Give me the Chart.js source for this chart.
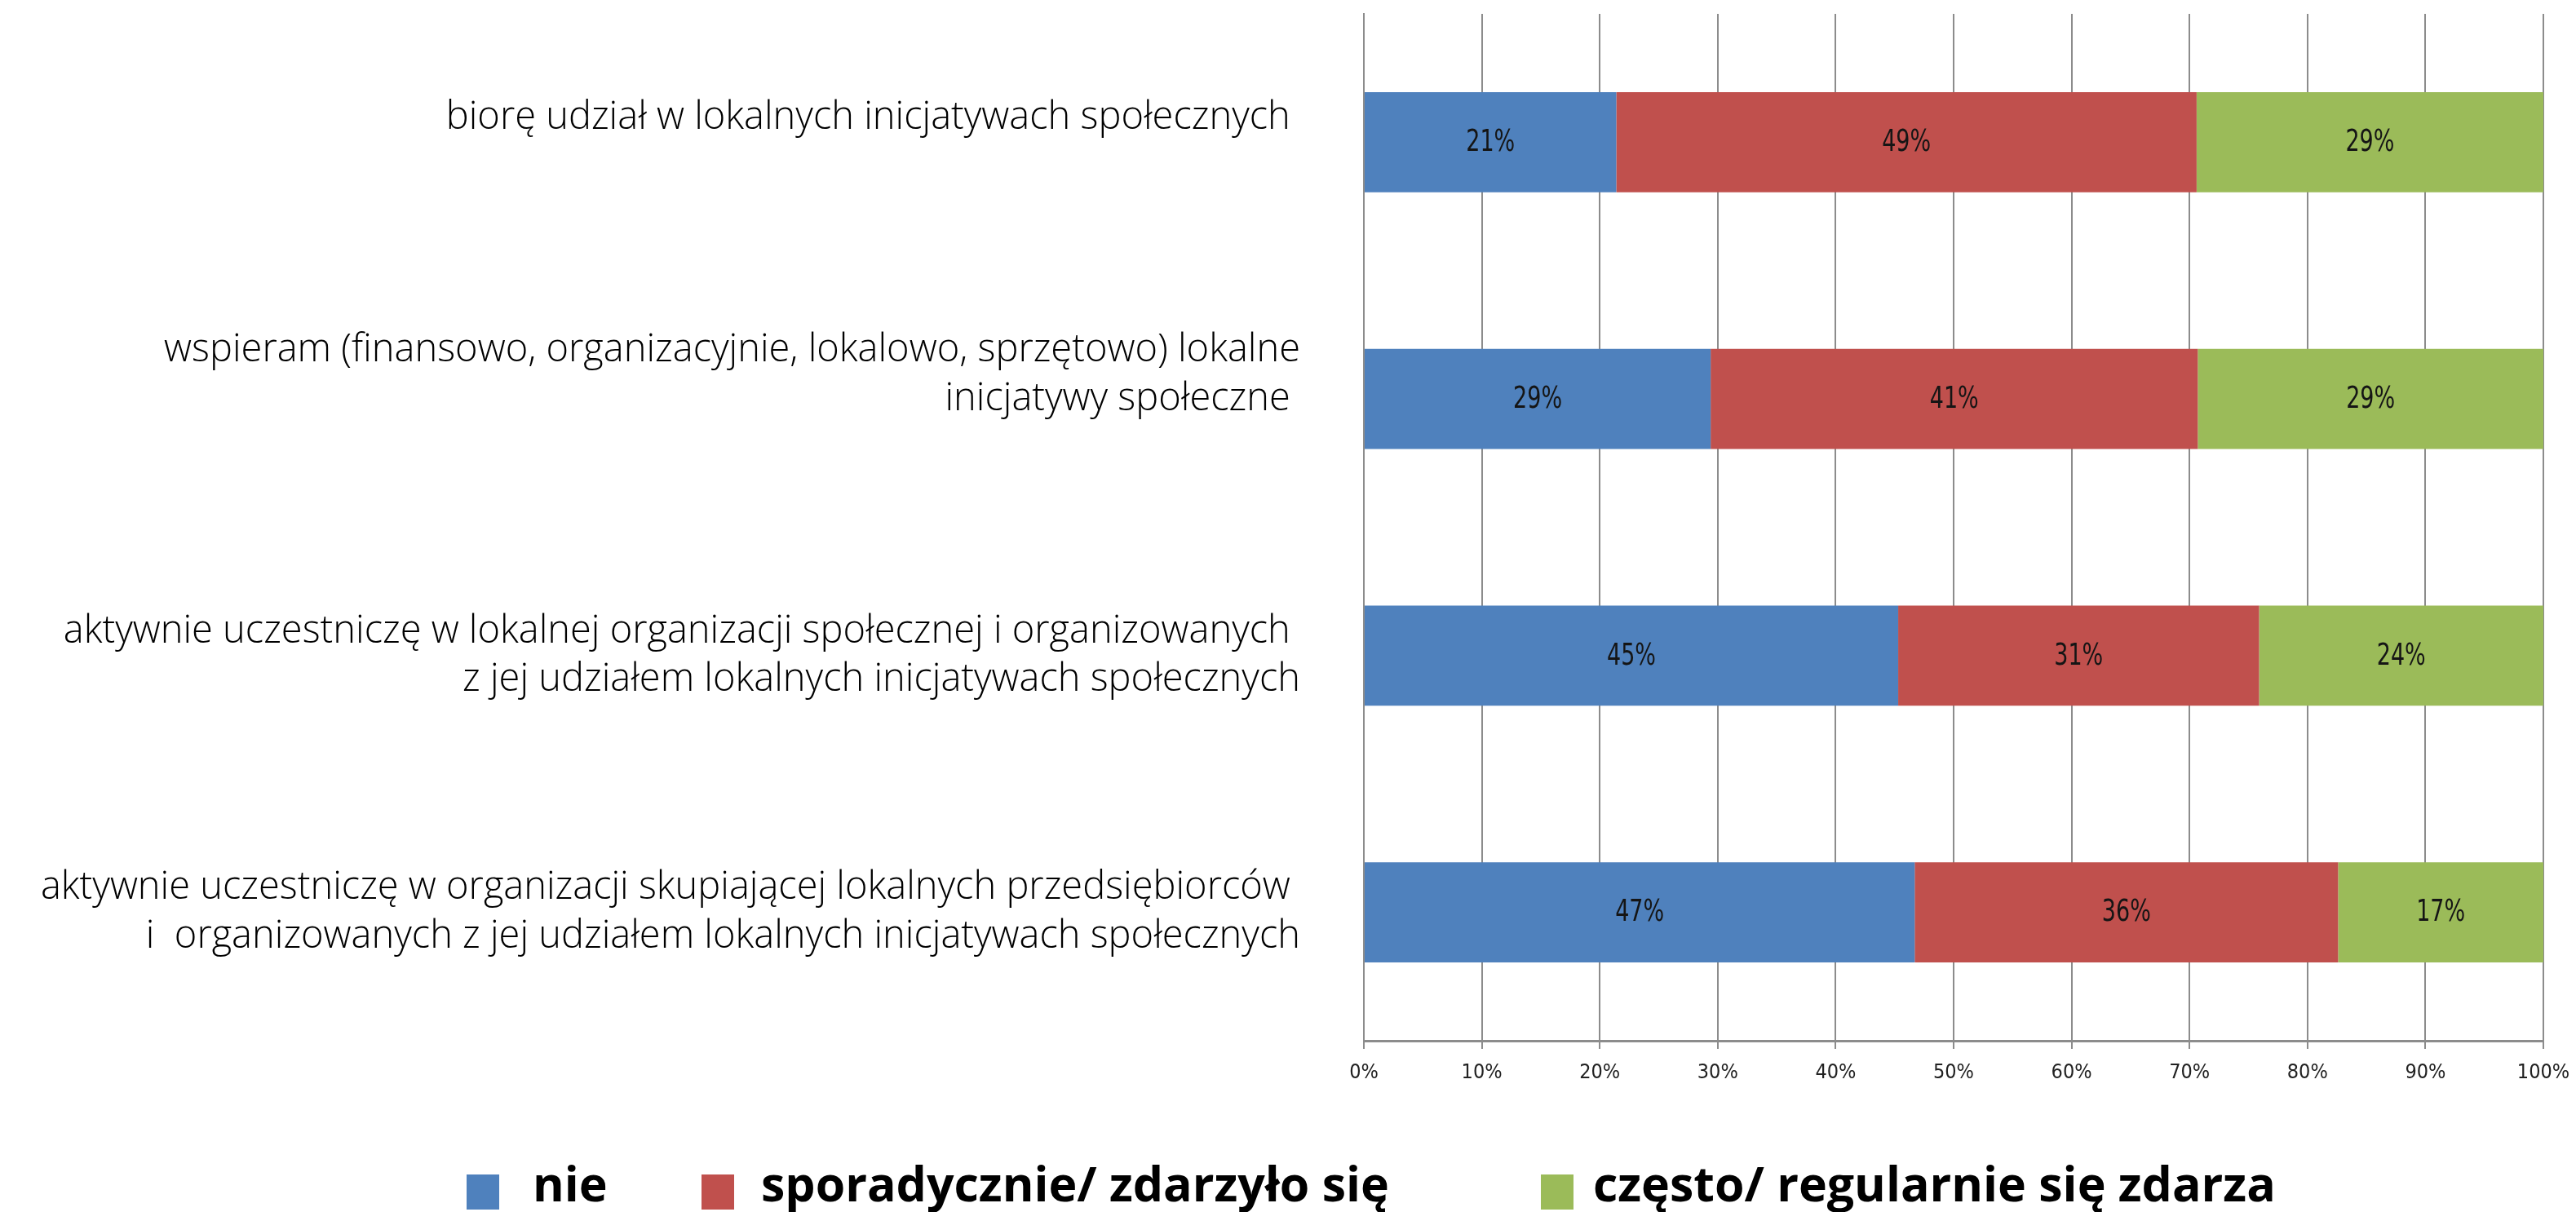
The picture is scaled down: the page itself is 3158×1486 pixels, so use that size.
<!DOCTYPE html>
<html>
<head>
<meta charset="utf-8">
<script src="https://cdn.jsdelivr.net/npm/chart.js@4.4.1/dist/chart.umd.min.js"></script>
<style>
html, body { margin: 0; padding: 0; background: #ffffff; }
</style>
</head>
<body>
<canvas id="chart" width="3158" height="1486"></canvas>
<script>
// categories (top to bottom), trailing '' lines nudge the label up like in the original
const categories = [
	['biorę udział w lokalnych inicjatywach społecznych ', ''],
	['wspieram (finansowo, organizacyjnie, lokalowo, sprzętowo) lokalne', 'inicjatywy społeczne ', ''],
	['aktywnie uczestniczę w lokalnej organizacji społecznej i organizowanych ', 'z jej udziałem lokalnych inicjatywach społecznych'],
	['aktywnie uczestniczę w organizacji skupiającej lokalnych przedsiębiorców ', 'i  organizowanych z jej udziałem lokalnych inicjatywach społecznych']
];

const seriesNames = ['nie', 'sporadycznie/ zdarzyło się', 'często/ regularnie się zdarza'];

// percentages
const nie = [21.4, 29.4, 45.3, 46.7];
const sporadycznie = [49.2, 41.3, 30.6, 35.9];
const czesto = [29.4, 29.3, 24.1, 17.4];

const seriesColors = ['#4F81BD', '#C0504D', '#9BBB59'];

const narrowFont = "'DejaVu Sans Condensed', 'Liberation Sans Narrow', 'DejaVu Sans', sans-serif";

// value labels inside each segment (a bit taller than wide, like the original)
const barLabels = {
	id: 'barLabels',
	afterDatasetsDraw(chart) {
		const ctx = chart.ctx;
		chart.data.datasets.forEach((ds, i) => {
			const meta = chart.getDatasetMeta(i);
			meta.data.forEach((bar, j) => {
				const cx = (bar.x + bar.base) / 2;
				ctx.save();
				ctx.translate(cx, bar.y + 1);
				ctx.scale(1, 1.25);
				ctx.font = '30px ' + narrowFont;
				ctx.fillStyle = '#151515';
				ctx.textAlign = 'center';
				ctx.textBaseline = 'middle';
				ctx.fillText(Math.round(ds.data[j]) + '%', 0, 0);
				ctx.restore();
			});
		});
	}
};

// legend at the bottom, spaced like the original
const bottomLegend = {
	id: 'bottomLegend',
	afterDraw(chart) {
		const ctx = chart.ctx;
		const boxX = [572, 860, 1889];
		const textX = [653, 933, 1953];
		const top = 1440;
		ctx.save();
		ctx.font = 'bold 59px "Open Sans", sans-serif';
		ctx.textBaseline = 'middle';
		ctx.textAlign = 'left';
		chart.data.datasets.forEach((ds, i) => {
			ctx.fillStyle = ds.backgroundColor;
			ctx.fillRect(boxX[i], top, 40, 43);
			ctx.fillStyle = '#000000';
			ctx.fillText(ds.label, textX[i], top + 16);
		});
		ctx.restore();
	}
};

new Chart(
	document.getElementById('chart'),
	{
		type: 'bar',
		data: {
			labels: categories,
			datasets: [
				{ label: seriesNames[0], data: nie, backgroundColor: seriesColors[0] },
				{ label: seriesNames[1], data: sporadycznie, backgroundColor: seriesColors[1] },
				{ label: seriesNames[2], data: czesto, backgroundColor: seriesColors[2] }
			]
		},
		options: {
			indexAxis: 'y',
			responsive: false,
			animation: false,
			devicePixelRatio: 1,
			layout: {
				padding: { left: 0, right: 40, top: 17, bottom: 140 }
			},
			datasets: {
				bar: { categoryPercentage: 1, barPercentage: 0.39 }
			},
			plugins: {
				legend: { display: false },
				tooltip: { enabled: false }
			},
			scales: {
				x: {
					stacked: true,
					min: 0,
					max: 100,
					ticks: {
						stepSize: 10,
						padding: 14,
						color: '#222222',
						font: { family: narrowFont, size: 25 },
						callback: v => v + '%'
					},
					grid: {
						color: '#8c8c8c',
						lineWidth: 2,
						tickLength: 10
					},
					border: { color: '#8c8c8c', width: 3 },
					afterFit(scale) {
						scale.height = 70;
						scale.paddingLeft = 0;
						scale.paddingRight = 0;
					}
				},
				y: {
					stacked: true,
					ticks: {
						padding: 78,
						color: '#000000',
						font: { family: '"Open Sans", sans-serif', size: 47, weight: '300', lineHeight: 1.26 }
					},
					grid: { display: false, drawTicks: false },
					border: { color: '#8c8c8c', width: 2 },
					afterFit(scale) {
						scale.width = 1672;
						scale.paddingTop = 0;
						scale.paddingBottom = 0;
					}
				}
			}
		},
		plugins: [barLabels, bottomLegend]
	}
);
</script>
</body>
</html>
